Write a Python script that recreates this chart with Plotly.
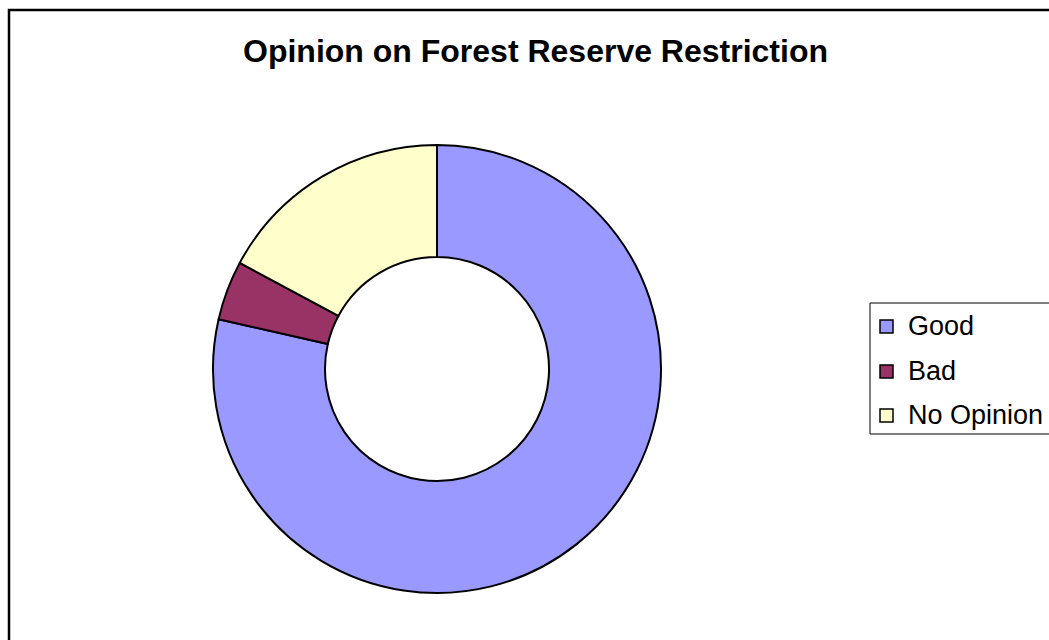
import plotly.graph_objects as go

# Survey responses
labels = ["Good", "Bad", "No Opinion"]
counts = [55, 3, 12]
colors = ["#9999FF", "#993366", "#FFFFCC"]

title_text = "Opinion on Forest Reserve Restriction"

W, H = 1049, 640

def px_x(x):
    return x / W

def px_y(y):
    return 1 - y / H

fig = go.Figure()

fig.add_trace(go.Pie(
    labels=labels,
    values=counts,
    hole=0.5,
    sort=False,
    direction="clockwise",
    rotation=0,
    marker=dict(colors=colors, line=dict(color="black", width=2)),
    textinfo="none",
    hoverinfo="label+value+percent",
    showlegend=False,
    domain=dict(x=[px_x(213), px_x(661)], y=[px_y(593), px_y(145)]),
))

shapes = [
    # outer chart frame
    dict(type="rect", xref="paper", yref="paper",
         x0=px_x(9), x1=px_x(1060), y0=px_y(660), y1=px_y(10),
         line=dict(color="black", width=2.5), fillcolor="rgba(0,0,0,0)", layer="above"),
    # legend frame
    dict(type="rect", xref="paper", yref="paper",
         x0=px_x(870), x1=px_x(1060), y0=px_y(434), y1=px_y(303),
         line=dict(color="black", width=1), fillcolor="white", layer="below"),
]

annotations = [
    dict(text="<b>" + title_text + "</b>", xref="paper", yref="paper",
         x=px_x(535.5), y=px_y(51), xanchor="center", yanchor="middle",
         showarrow=False, font=dict(family="Arial, Liberation Sans", size=32, color="black")),
]

# legend entries
row_y = [326, 371, 415]
for lab, col, yc in zip(labels, colors, row_y):
    shapes.append(dict(type="rect", xref="paper", yref="paper",
                       x0=px_x(880), x1=px_x(893), y0=px_y(yc + 7), y1=px_y(yc - 6),
                       line=dict(color="black", width=1.5), fillcolor=col, layer="above"))
    annotations.append(dict(text=lab, xref="paper", yref="paper",
                            x=px_x(906), y=px_y(yc), xanchor="left", yanchor="middle",
                            showarrow=False,
                            font=dict(family="Arial, Liberation Sans", size=27, color="black")))

fig.update_layout(
    width=W, height=H,
    margin=dict(l=0, r=0, t=0, b=0),
    paper_bgcolor="white",
    plot_bgcolor="white",
    shapes=shapes,
    annotations=annotations,
)

fig.write_html("out.html")
